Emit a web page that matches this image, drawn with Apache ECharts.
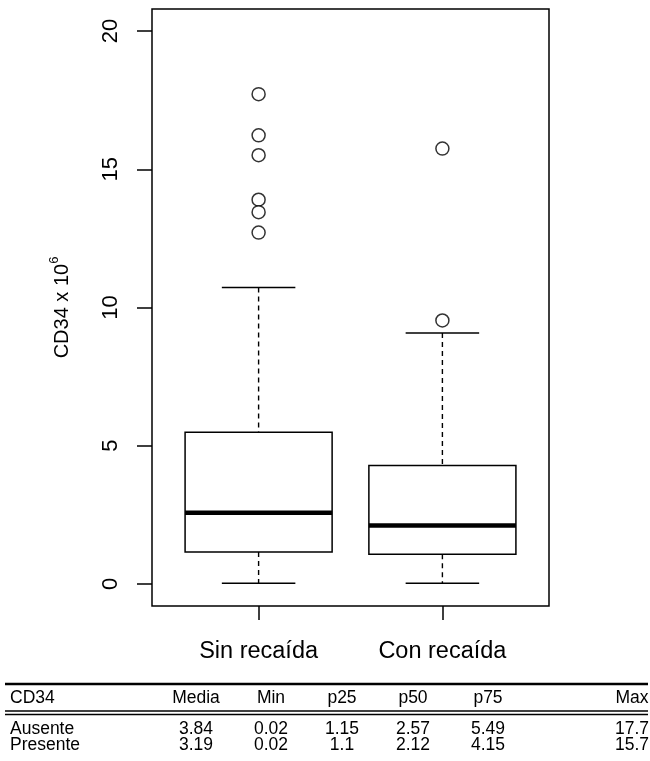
<!DOCTYPE html>
<html>
<head>
<meta charset="utf-8">
<script src="https://cdn.jsdelivr.net/npm/echarts@6/dist/echarts.min.js"></script>
<style>
html,body{margin:0;padding:0;background:#fff;}
#chart{width:650px;height:761px;}
</style>
</head>
<body>
<div id="chart"></div>
<script>
// ---- data ----
const categories = ['Sin recaída', 'Con recaída'];
// [position, lower whisker, lower hinge, median, upper hinge, upper whisker]
const boxSin = [1, 0.02, 1.15, 2.57, 5.49, 10.72];
const boxCon = [2, 0.02, 1.07, 2.11, 4.28, 9.08];
const outliersSin = [17.72, 16.23, 15.51, 13.90, 13.45, 12.71];
const outliersCon = [15.75, 9.53];
const yTicks = [0, 5, 10, 15, 20];
const xTicks = [1, 2];
const tableHeader = ['CD34', 'Media', 'Min', 'p25', 'p50', 'p75', 'Max'];
const tableRowAusente = ['Ausente', '3.84', '0.02', '1.15', '2.57', '5.49', '17.7'];
const tableRowPresente = ['Presente', '3.19', '0.02', '1.1', '2.12', '4.15', '15.7'];

const FONT = "'Liberation Sans', Arial, Helvetica, sans-serif";

const chart = echarts.init(document.getElementById('chart'), null, {renderer: 'canvas'});

const outlierData = [];
outliersSin.forEach(v => outlierData.push([1, v]));
outliersCon.forEach(v => outlierData.push([2, v]));

function renderBox(params, api) {
  const x = api.value(0);
  const lo = api.coord([x, api.value(1)]);
  const q1 = api.coord([x, api.value(2)]);
  const med = api.coord([x, api.value(3)]);
  const q3 = api.coord([x, api.value(4)]);
  const hi = api.coord([x, api.value(5)]);
  const halfW = api.size([0.4, 0])[0];
  const capW = halfW / 2;
  const cx = lo[0];
  const dashStyle = {stroke: '#000', lineWidth: 1.4, lineDash: [5, 4], fill: null};
  const solid = {stroke: '#000', lineWidth: 1.5, fill: null};
  return {
    type: 'group',
    children: [
      {type: 'line', shape: {x1: cx, y1: hi[1], x2: cx, y2: q3[1]}, style: dashStyle},
      {type: 'line', shape: {x1: cx, y1: q1[1], x2: cx, y2: lo[1]}, style: dashStyle},
      {type: 'line', shape: {x1: cx - capW, y1: hi[1], x2: cx + capW, y2: hi[1]}, style: solid},
      {type: 'line', shape: {x1: cx - capW, y1: lo[1], x2: cx + capW, y2: lo[1]}, style: solid},
      {type: 'rect', shape: {x: cx - halfW, y: q3[1], width: 2 * halfW, height: q1[1] - q3[1]},
        style: {fill: '#fff', stroke: '#000', lineWidth: 1.5}},
      {type: 'line', shape: {x1: cx - halfW, y1: med[1], x2: cx + halfW, y2: med[1]},
        style: {stroke: '#000', lineWidth: 4.5}}
    ]
  };
}

// table graphics
const colX = [10, 196, 271, 342, 413, 488, 632];
const graphics = [];
function addRow(row, y) {
  row.forEach((t, i) => {
    graphics.push({
      type: 'text', x: colX[i], y: y,
      style: {text: t, fontSize: 17.5, fontFamily: FONT, fill: '#000',
        align: i === 0 ? 'left' : 'center', verticalAlign: 'middle'}
    });
  });
}
graphics.push({type: 'line', shape: {x1: 5, y1: 684, x2: 648, y2: 684}, style: {stroke: '#000', lineWidth: 2.5}});
graphics.push({type: 'line', shape: {x1: 5, y1: 711, x2: 648, y2: 711}, style: {stroke: '#000', lineWidth: 1.5}});
graphics.push({type: 'line', shape: {x1: 5, y1: 714.5, x2: 648, y2: 714.5}, style: {stroke: '#000', lineWidth: 1.5}});
addRow(tableHeader, 698);
addRow(tableRowAusente, 729);
addRow(tableRowPresente, 745);

chart.setOption({
  animation: false,
  backgroundColor: '#fff',
  textStyle: {fontFamily: FONT},
  grid: {left: 152, top: 9, width: 397, height: 597, show: true, borderColor: '#000', borderWidth: 1.5, backgroundColor: 'transparent'},
  xAxis: {
    type: 'value', min: 0.42, max: 2.58,
    axisLine: {show: false, onZero: false},
    splitLine: {show: false},
    axisTick: {show: true, length: 14, customValues: xTicks, lineStyle: {color: '#000', width: 1.5}},
    axisLabel: {customValues: xTicks, margin: 34, fontSize: 23.5, color: '#000', fontFamily: FONT,
      formatter: v => categories[Math.round(v) - 1] || ''}
  },
  yAxis: {
    type: 'value', min: -0.8, max: 20.8,
    name: '{a|CD34 x 10}{b|6}',
    nameLocation: 'middle', nameRotate: 90, nameGap: 80,
    nameTextStyle: {color: '#000', rich: {
      a: {fontSize: 20, fontFamily: FONT, color: '#000', lineHeight: 24, verticalAlign: 'bottom'},
      b: {fontSize: 13, fontFamily: FONT, color: '#000', verticalAlign: 'top', lineHeight: 14}
    }},
    axisLine: {show: false, onZero: false},
    splitLine: {show: false},
    axisTick: {show: true, length: 15, customValues: yTicks, lineStyle: {color: '#000', width: 1.5}},
    axisLabel: {customValues: yTicks, rotate: 90, margin: 30, fontSize: 22, color: '#000', fontFamily: FONT}
  },
  series: [
    {
      type: 'custom', name: 'box', renderItem: renderBox,
      encode: {x: 0, y: [1, 2, 3, 4, 5]},
      data: [boxSin, boxCon], z: 2
    },
    {
      type: 'scatter', name: 'outliers', data: outlierData,
      symbol: 'circle', symbolSize: 13,
      itemStyle: {color: '#fff', borderColor: '#000', borderWidth: 1.5}, z: 3
    }
  ],
  graphic: graphics
});
</script>
</body>
</html>
